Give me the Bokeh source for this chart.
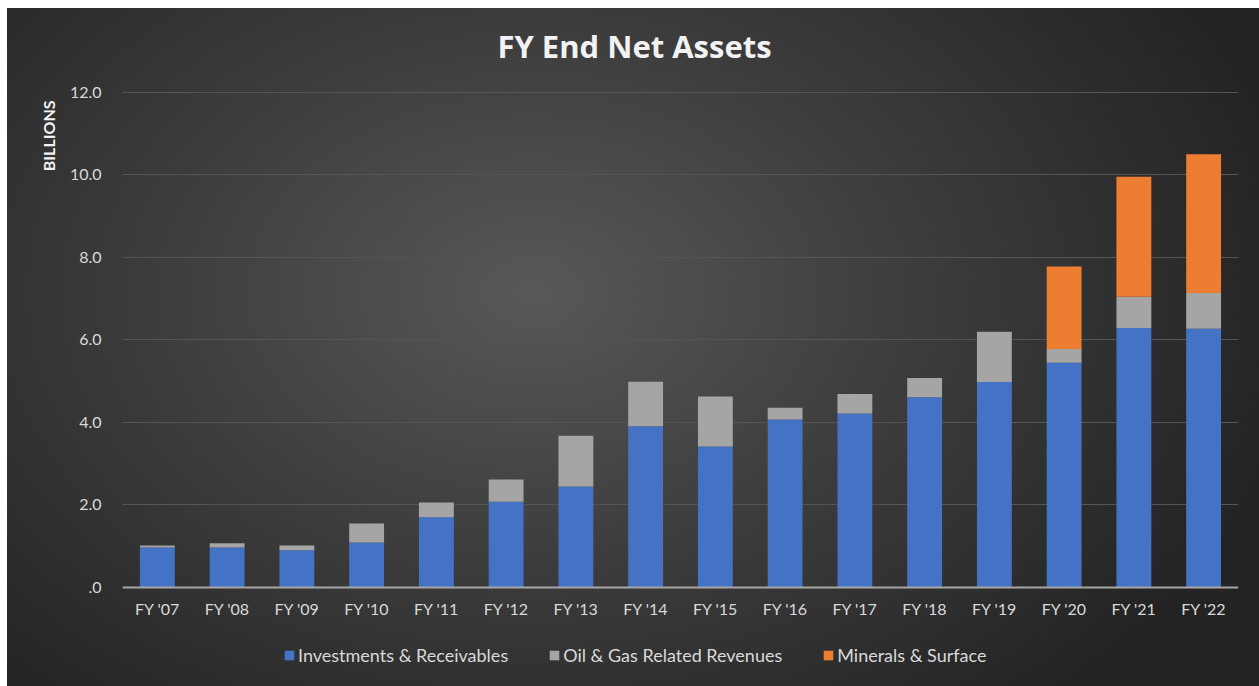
from bokeh.plotting import figure
from bokeh.models import (FactorRange, Legend, LegendItem, ColumnDataSource, FixedTicker,
                          Label, Title)
from bokeh.embed import file_html
from bokeh.resources import INLINE

years = ["FY '07", "FY '08", "FY '09", "FY '10", "FY '11", "FY '12", "FY '13", "FY '14",
         "FY '15", "FY '16", "FY '17", "FY '18", "FY '19", "FY '20", "FY '21", "FY '22"]
investments = [0.97, 0.97, 0.90, 1.09, 1.70, 2.08, 2.45, 3.91, 3.42, 4.07, 4.22, 4.61, 4.98, 5.45, 6.29, 6.27]
oil_gas = [0.05, 0.10, 0.12, 0.46, 0.36, 0.54, 1.23, 1.08, 1.21, 0.29, 0.47, 0.47, 1.22, 0.33, 0.76, 0.87]
minerals = [0, 0, 0, 0, 0, 0, 0, 0, 0, 0, 0, 0, 0, 2.00, 2.91, 3.36]
series_names = ["Investments & Receivables", "Oil & Gas Related Revenues", "Minerals & Surface"]
y_ticks = [0, 2, 4, 6, 8, 10, 12]
y_tick_labels = [".0", "2.0", "4.0", "6.0", "8.0", "10.0", "12.0"]
title_text = "FY End Net Assets"
y_label_text = "BILLIONS"

colors = ["#4472C4", "#A5A5A5", "#ED7D31"]
FONT = "Lato"

source = ColumnDataSource(dict(years=years, inv=investments, oil=oil_gas, mins=minerals))

# frame spans the full height; the category axis sits at y = 0
p = figure(x_range=FactorRange(*years, range_padding=0), y_range=(-2.4, 14.036),
           width=1252, height=678, output_backend="svg", toolbar_location=None,
           min_border_left=115, min_border_right=21, min_border_top=0, min_border_bottom=0)
p.styles = {
    "margin-left": "7px",
    "margin-top": "8px",
    "background": "radial-gradient(ellipse 62% 80% at 42% 42%, #585858 0%, #3c3c3c 50%, #232323 100%)",
}
p.background_fill_alpha = 0
p.border_fill_alpha = 0
p.outline_line_color = None

renderers = p.vbar_stack(["inv", "oil", "mins"], x="years", width=0.5, color=colors,
                         line_color=None, source=source)

title = Label(text=title_text, x=512, y=641, x_units="screen", y_units="screen",
              text_align="center", text_baseline="middle", text_font="Open Sans",
              text_font_size="31px", text_font_style="bold", text_color="#f2f2f2")
p.add_layout(title)

p.xgrid.grid_line_color = None
p.ygrid.grid_line_color = "#555555"
p.ygrid.grid_line_width = 1
p.yaxis.ticker = FixedTicker(ticks=y_ticks)
p.yaxis.major_label_overrides = {t: l for t, l in zip(y_ticks, y_tick_labels)}

p.xaxis.fixed_location = 0
p.xaxis.axis_line_color = "#a6a6a6"
p.xaxis.axis_line_width = 2
p.xaxis.major_tick_line_color = None
p.xaxis.minor_tick_line_color = None
p.xaxis.major_label_text_color = "#d9d9d9"
p.xaxis.major_label_text_font = FONT
p.xaxis.major_label_text_font_size = "16px"
p.xaxis.major_label_standoff = 6

p.yaxis.axis_line_color = None
p.yaxis.major_tick_line_color = None
p.yaxis.minor_tick_line_color = None
p.yaxis.major_label_text_color = "#d9d9d9"
p.yaxis.major_label_text_font = FONT
p.yaxis.major_label_text_font_size = "16px"
p.yaxis.major_label_standoff = 15

# vertical "BILLIONS" caption near the top of the value scale
y_caption = Title(text=y_label_text, align="right", offset=92, standoff=18,
                  text_font=FONT, text_font_size="16px", text_font_style="bold",
                  text_color="#f2f2f2")
p.add_layout(y_caption, "left")

legend = Legend(items=[LegendItem(label=n, renderers=[r]) for n, r in zip(series_names, renderers)],
                orientation="horizontal", location=(161, 20))
legend.background_fill_alpha = 0
legend.border_line_color = None
legend.label_text_color = "#d9d9d9"
legend.label_text_font = FONT
legend.label_text_font_size = "18px"
legend.glyph_width = 12
legend.glyph_height = 12
legend.label_standoff = 3
legend.spacing = 40
legend.margin = 0
legend.padding = 0
p.add_layout(legend, "center")

open("out.html", "w").write(file_html(p, INLINE))
